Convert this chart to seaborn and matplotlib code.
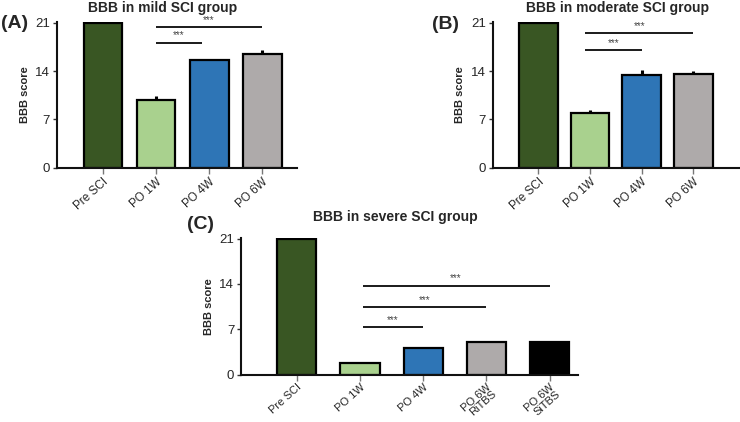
import matplotlib
matplotlib.use("Agg")
import matplotlib.pyplot as plt
import seaborn as sns
import pandas as pd

# ==============================
# DADOS
# ==============================
cats_ab = ["Pre SCI", "PO 1W", "PO 4W", "PO 6W"]
cats_c = ["Pre SCI", "PO 1W", "PO 4W", "PO 6W\nRiTBS", "PO 6W\nSiTBS"]

mild_vals = [21, 9.85, 15.55, 16.4]
mild_err = [0, 0.6, 0.1, 0.6]
moderate_vals = [21, 7.93, 13.4, 13.5]
moderate_err = [0, 0.45, 0.7, 0.55]
severe_vals = [21, 1.78, 4.05, 5.07, 5.07]
severe_err = [0, 0.0, 0.15, 0.1, 0.1]

# linhas de significância: (x inicio, x fim, y)
mild_sig = [(1, 1.86, 18.1), (1, 3, 20.4)]
moderate_sig = [(0.91, 2, 17.0), (0.91, 3, 19.5)]
severe_sig = [(1.04, 2, 7.34), (1.04, 3, 10.5), (1.04, 4, 13.76)]

colors = ["#395623", "#a9d18e", "#2e75b6", "#aeaaaa", "#000000"]

# ==============================
# CONFIGURAÇÕES
# ==============================
sns.set_style("ticks")
plt.rcParams["font.family"] = ["Liberation Sans", "DejaVu Sans"]

fig = plt.figure(figsize=(7.4, 4.22), dpi=100)


def draw_panel(rect, cats, vals, errs, sig, width, xlim, xsize=8.5):
    ax = fig.add_axes(rect)
    df = pd.DataFrame({"cat": cats, "val": vals})
    sns.barplot(data=df, x="cat", y="val", hue="cat", palette=colors[:len(cats)],
                saturation=1, edgecolor="black", linewidth=1.6, width=width,
                errorbar=None, legend=False, ax=ax)
    ax.errorbar(range(len(cats)), vals, yerr=[[0] * len(cats), errs], fmt="none",
                ecolor="black", elinewidth=2.2, capsize=0)
    for x1, x2, y in sig:
        ax.plot([x1, x2], [y, y], color="#1a1a1a", lw=1.4, solid_capstyle="butt")
        ax.text((x1 + x2) / 2, y + 0.3, "***", ha="center", va="bottom",
                fontsize=7, color="#444444")
    ax.set_xlim(*xlim)
    ax.set_ylim(0, 21.15)
    ax.set_yticks([0, 7, 14, 21])
    ax.set_xlabel("")
    ax.set_ylabel("BBB score", fontsize=8, fontweight="bold", labelpad=4)
    ax.tick_params(axis="y", labelsize=9.5, length=3, width=1, color="#333333", pad=2)
    ax.tick_params(axis="x", labelsize=xsize, length=4, width=1, color="#777777", pad=1.5)
    plt.setp(ax.get_xticklabels(), rotation=42, ha="right", rotation_mode="anchor",
             linespacing=0.8)
    sns.despine(ax=ax)
    for s in ["left", "bottom"]:
        ax.spines[s].set_linewidth(1.5)
        ax.spines[s].set_color("#111111")
    return ax


draw_panel([0.077, 0.602, 0.324, 0.347], cats_ab, mild_vals, mild_err, mild_sig,
           0.73, (-0.865, 3.65))
draw_panel([0.666, 0.602, 0.333, 0.347], cats_ab, moderate_vals, moderate_err,
           moderate_sig, 0.75, (-0.88, 3.89))
draw_panel([0.326, 0.112, 0.455, 0.325], cats_c, severe_vals, severe_err, severe_sig,
           0.62, (-0.88, 4.45), xsize=8)

# títulos e rótulos dos painéis
fig.text(0.22, 0.981, "BBB in mild SCI group", ha="center", va="center",
         fontsize=10, fontweight="bold")
fig.text(0.834, 0.981, "BBB in moderate SCI group", ha="center", va="center",
         fontsize=10, fontweight="bold")
fig.text(0.534, 0.486, "BBB in severe SCI group", ha="center", va="center",
         fontsize=10, fontweight="bold")
fig.text(0.002, 0.945, "(A)", ha="left", va="center", fontsize=14, fontweight="bold")
fig.text(0.584, 0.943, "(B)", ha="left", va="center", fontsize=14, fontweight="bold")
fig.text(0.253, 0.467, "(C)", ha="left", va="center", fontsize=14, fontweight="bold")

plt.savefig("out.png", dpi=100)
